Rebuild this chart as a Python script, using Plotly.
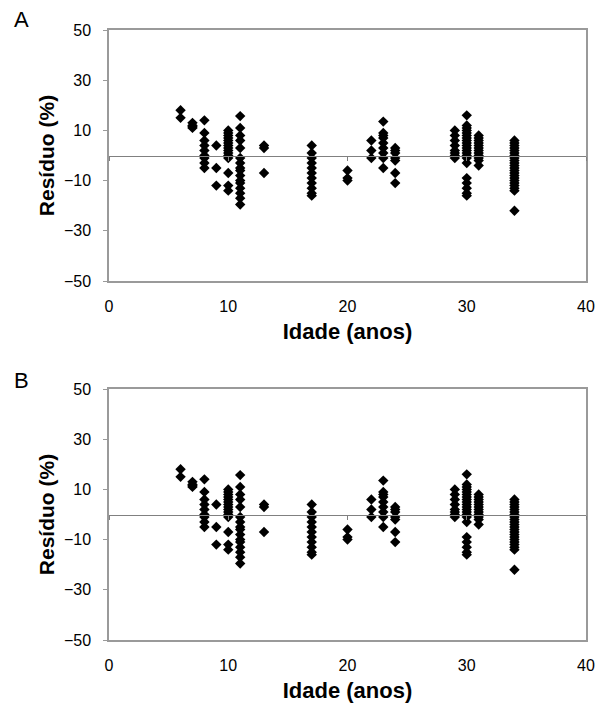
import plotly.graph_objects as go

# ---- data ----
idade = (
    [6, 6]
    + [7, 7, 7, 7]
    + [8, 8, 8, 8, 8, 8, 8, 8, 8]
    + [9, 9, 9]
    + [10, 10, 10, 10, 10, 10, 10, 10, 10, 10, 10, 10, 10, 10, 10]
    + [11, 11, 11, 11, 11, 11, 11, 11, 11, 11, 11, 11, 11, 11, 11, 11]
    + [13, 13, 13]
    + [17, 17, 17, 17, 17, 17, 17, 17, 17, 17, 17]
    + [20, 20, 20]
    + [22, 22, 22]
    + [23, 23, 23, 23, 23, 23, 23, 23, 23]
    + [24, 24, 24, 24, 24, 24, 24]
    + [29, 29, 29, 29, 29, 29, 29, 29]
    + [30, 30, 30, 30, 30, 30, 30, 30, 30, 30, 30, 30, 30, 30, 30, 30, 30, 30, 30, 30, 30]
    + [31, 31, 31, 31, 31, 31, 31, 31, 31, 31, 31, 31]
    + [34, 34, 34, 34, 34, 34, 34, 34, 34, 34, 34, 34, 34, 34, 34, 34, 34, 34, 34, 34, 34, 34]
)
residuo = (
    [18, 15]
    + [13, 12, 11.5, 11]
    + [14, 9, 6, 4, 2, 0, -1, -3, -5]
    + [4, -5, -12]
    + [10, 9, 8, 7, 6, 5, 4, 3, 2, 1, 0, -1, -7, -12, -14]
    + [15.7, 11, 8, 6, 3, -1, -3, -5, -6, -8, -10, -11, -13, -15, -17, -19.5]
    + [4, 3, -7]
    + [4, 1, -1, -3, -5, -7, -9, -11, -13, -15, -16]
    + [-6, -9, -10]
    + [6, 2, -1]
    + [13.5, 9, 8, 7, 5, 3, 1, -1, -5]
    + [3, 2, 1, -1, -2, -7, -11]
    + [10, 8, 6, 4, 2, 1, 0, -1]
    + [16, 12, 11, 10, 9, 8, 7, 6, 5, 4, 3, 2, 1, 0, -1, -3, -9, -11, -13, -15, -16]
    + [8, 7, 6, 5, 4, 3, 2, 1, 0, -1, -2, -4]
    + [6, 5, 4, 3, 2, 1, 0, -1, -2, -3, -4, -5, -6, -7, -8, -9, -10, -11, -12, -13, -14, -22]
)
idade_b = idade
residuo_b = residuo

x_range = [0, 40]
y_range = [-50, 50]
x_ticks = [0, 10, 20, 30, 40]
y_ticks = [-50, -30, -10, 10, 30, 50]
panel_labels = ["A", "B"]

FONT = "Liberation Sans, Arial, sans-serif"
AXC = "#9a9a9a"

OFF = 8  # default page body margin
W, H = 605 - OFF, 704 - OFF
ML, MT = 109 - OFF, 30 - OFF
PW = 586 - 109
PH = 640 - 30
MR = W - ML - PW
MB = H - MT - PH
top_dom = [(640 - 281) / PH, 1.0]
bot_dom = [0.0, (640 - 389) / PH]

fig = go.Figure()
mk = dict(symbol="diamond", size=8, color="black", line=dict(width=0))
fig.add_trace(go.Scatter(x=idade, y=residuo, mode="markers", marker=mk,
                         xaxis="x", yaxis="y", showlegend=False))
fig.add_trace(go.Scatter(x=idade_b, y=residuo_b, mode="markers", marker=mk,
                         xaxis="x2", yaxis="y2", showlegend=False))
# helper traces so the zero-crossing axes are drawn
fig.add_trace(go.Scatter(x=[None], y=[None], xaxis="x3", yaxis="y", showlegend=False, hoverinfo="skip"))
fig.add_trace(go.Scatter(x=[None], y=[None], xaxis="x4", yaxis="y2", showlegend=False, hoverinfo="skip"))

def xax(anchor, title):
    return dict(domain=[0, 1], anchor=anchor, range=x_range, tickvals=x_ticks,
                automargin=False,
                showline=True, mirror=True, linecolor=AXC, linewidth=1.5,
                ticks="outside", ticklen=10, tickcolor="rgba(0,0,0,0)",
                showgrid=False, zeroline=False,
                tickfont=dict(family=FONT, size=16, color="black"),
                title=dict(text="<b>" + title + "</b>", standoff=10,
                           font=dict(family=FONT, size=22, color="black")))

def yax(anchor, dom, title):
    return dict(domain=dom, anchor=anchor, range=y_range, tickvals=y_ticks,
                automargin=False,
                showline=True, mirror=True, linecolor=AXC, linewidth=1.5,
                ticks="outside", ticklen=4, tickcolor=AXC, ticklabelstandoff=9,
                showgrid=False, zeroline=False,
                tickfont=dict(family=FONT, size=16, color="black"),
                title=dict(text="<b>" + title + "</b>", standoff=4,
                           font=dict(family=FONT, size=21, color="black")))

def zax(over, pos):
    return dict(overlaying=over, anchor="free", position=pos, range=x_range,
                tickvals=x_ticks, automargin=False,
                showline=True, linecolor="#808080", linewidth=1,
                ticks="outside", ticklen=4, tickcolor="#808080",
                showticklabels=False, showgrid=False, zeroline=False)

fig.update_layout(
    width=W, height=H, autosize=False,
    margin=dict(l=ML, r=MR, t=MT, b=MB),
    paper_bgcolor="white", plot_bgcolor="white",
    xaxis=xax("y", "Idade (anos)"),
    yaxis=yax("x", top_dom, "Resíduo (%)"),
    xaxis2=xax("y2", "Idade (anos)"),
    yaxis2=yax("x2", bot_dom, "Resíduo (%)"),
    xaxis3=zax("x", (top_dom[0] + top_dom[1]) / 2),
    xaxis4=zax("x2", (bot_dom[0] + bot_dom[1]) / 2),
    annotations=[
        dict(text=panel_labels[0], xref="paper", yref="paper",
             x=(21 - 109) / PW, y=1 + (30 - 20) / PH,
             xanchor="center", yanchor="middle", showarrow=False,
             font=dict(family=FONT, size=22, color="black")),
        dict(text=panel_labels[1], xref="paper", yref="paper",
             x=(21 - 109) / PW, y=(640 - 381) / PH,
             xanchor="center", yanchor="middle", showarrow=False,
             font=dict(family=FONT, size=22, color="black")),
    ],
)

fig.write_html("out.html")
